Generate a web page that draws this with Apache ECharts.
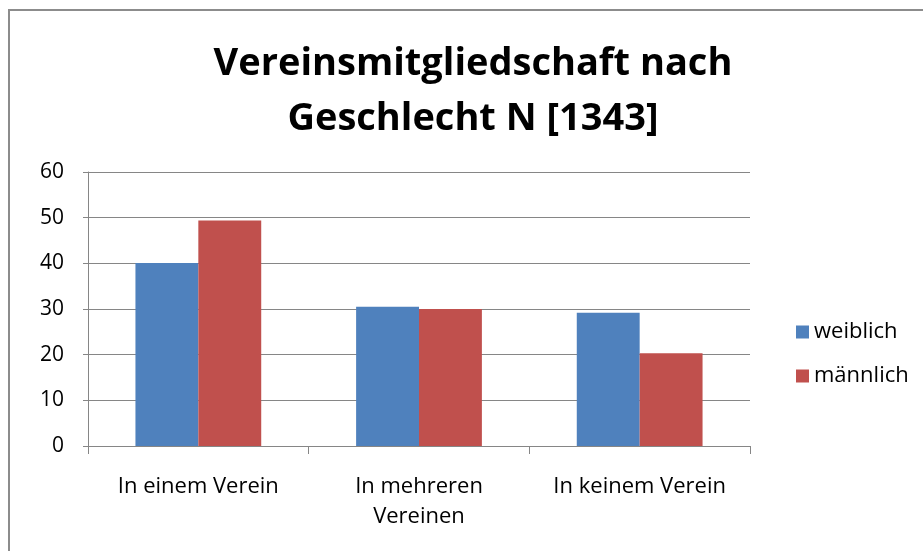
<!DOCTYPE html>
<html lang="de">
<head>
    <meta charset="UTF-8">
    <script type="text/javascript" src="https://cdn.jsdelivr.net/npm/echarts@6/dist/echarts.min.js"></script>
    <title>Vereinsmitgliedschaft</title>
    <style>
        html, body { margin: 0; padding: 0; background: #fff; }
    </style>
</head>
<body>

<div style="width: 923px; height: 551px" id="chart"></div>

<script>
    // Werte (Prozent)
    var categories = ['In einem Verein', 'In mehreren\nVereinen', 'In keinem Verein'];
    var weiblich = [40.1, 30.5, 29.2];
    var maennlich = [49.4, 30.0, 20.3];
    var seriesNames = ['weiblich', 'männlich'];

    var font = 'Open Sans';
    var mChart = echarts.init(document.getElementById('chart'));

    var option = {
        animation: false,
        backgroundColor: '#fff',
        color: ['#4f81bd', '#c0504d'],
        textStyle: { fontFamily: font },
        graphic: [{
            type: 'rect',
            silent: true,
            shape: { x: 9, y: 10, width: 1000, height: 1000 },
            style: { fill: 'none', stroke: '#8c8c8c', lineWidth: 2 }
        }],
        title: {
            text: 'Vereinsmitgliedschaft nach\nGeschlecht N [1343]',
            left: 468,
            top: 32,
            textAlign: 'center',
            textStyle: {
                fontFamily: font,
                fontSize: 38,
                fontWeight: 'bold',
                color: '#000',
                lineHeight: 55
            }
        },
        legend: {
            orient: 'vertical',
            left: 791,
            top: 316,
            itemWidth: 13,
            itemHeight: 13,
            itemGap: 22,
            icon: 'rect',
            data: seriesNames,
            textStyle: { fontFamily: font, fontSize: 22, color: '#000' }
        },
        grid: {
            left: 88,
            right: 173,
            top: 172,
            bottom: 105
        },
        xAxis: {
            type: 'category',
            data: categories,
            axisLine: { lineStyle: { color: '#868686' } },
            axisTick: { show: true, length: 8, lineStyle: { color: '#868686' } },
            axisLabel: {
                interval: 0,
                hideOverlap: false,
                fontFamily: font,
                fontSize: 22,
                color: '#000',
                margin: 26,
                lineHeight: 30
            }
        },
        yAxis: {
            type: 'value',
            min: 0,
            max: 60,
            interval: 10,
            axisLine: { show: true, lineStyle: { color: '#868686' } },
            axisTick: { show: true, length: 5, lineStyle: { color: '#868686' } },
            splitLine: { lineStyle: { color: '#868686' } },
            axisLabel: { fontFamily: font, fontSize: 21, color: '#000', margin: 24 }
        },
        series: [
            {
                name: seriesNames[0],
                type: 'bar',
                data: weiblich,
                barGap: '0%',
                barCategoryGap: '43%'
            },
            {
                name: seriesNames[1],
                type: 'bar',
                data: maennlich
            }
        ]
    };

    mChart.setOption(option);
</script>

</body>
</html>
